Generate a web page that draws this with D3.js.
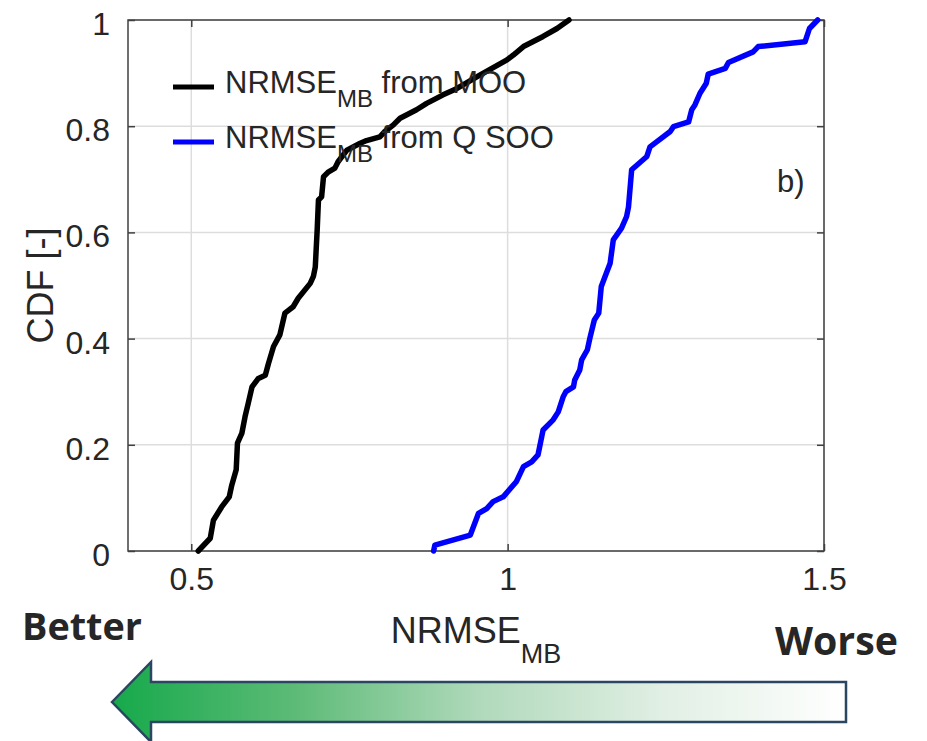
<!DOCTYPE html>
<html>
<head>
<meta charset="utf-8">
<script src="https://cdn.jsdelivr.net/npm/d3@7/dist/d3.min.js"></script>
<style>
  html, body { margin: 0; padding: 0; background: #ffffff; }
  svg { display: block; }
  text { font-family: "Liberation Sans", Arial, Helvetica, sans-serif; fill: #262626; }
</style>
</head>
<body>
<svg id="chart" width="927" height="741"></svg>
<script>
// Empirical CDF of NRMSE_MB, multi-objective optimisation (MOO)
const mooX = [0.511, 0.530, 0.535, 0.548, 0.560, 0.564, 0.571, 0.573, 0.580, 0.585, 0.590, 0.596,
  0.606, 0.617, 0.622, 0.630, 0.640, 0.648, 0.661, 0.669, 0.688, 0.693, 0.696, 0.699, 0.701, 0.706,
  0.709, 0.717, 0.727, 0.732, 0.746, 0.767, 0.777, 0.798, 0.806, 0.819, 0.830, 0.856, 0.872, 0.898,
  0.920, 0.956, 0.999, 1.009, 1.025, 1.056, 1.078, 1.097];
const mooCdf = [0.000, 0.024, 0.058, 0.083, 0.102, 0.124, 0.153, 0.203, 0.222, 0.253, 0.278, 0.309,
  0.325, 0.331, 0.353, 0.385, 0.407, 0.448, 0.460, 0.476, 0.504, 0.517, 0.535, 0.605, 0.661, 0.667,
  0.705, 0.714, 0.721, 0.733, 0.755, 0.768, 0.773, 0.780, 0.790, 0.802, 0.815, 0.831, 0.843, 0.859,
  0.871, 0.896, 0.925, 0.934, 0.950, 0.969, 0.984, 1.000];

// Empirical CDF of NRMSE_MB, single-objective optimisation on Q (Q SOO)
const sooX = [0.883, 0.885, 0.941, 0.954, 0.967, 0.977, 0.993, 1.014, 1.025, 1.038, 1.048, 1.056,
  1.072, 1.080, 1.088, 1.092, 1.104, 1.106, 1.114, 1.117, 1.126, 1.130, 1.137, 1.144, 1.148, 1.154,
  1.162, 1.167, 1.180, 1.188, 1.191, 1.196, 1.220, 1.225, 1.257, 1.262, 1.286, 1.291, 1.296, 1.304,
  1.314, 1.317, 1.344, 1.349, 1.388, 1.396, 1.470, 1.477, 1.490];
const sooCdf = [0.000, 0.011, 0.030, 0.071, 0.080, 0.093, 0.102, 0.131, 0.159, 0.168, 0.181, 0.228,
  0.247, 0.262, 0.291, 0.300, 0.309, 0.322, 0.341, 0.360, 0.379, 0.401, 0.435, 0.448, 0.498, 0.517,
  0.542, 0.586, 0.608, 0.630, 0.648, 0.718, 0.743, 0.761, 0.790, 0.799, 0.808, 0.831, 0.840, 0.862,
  0.881, 0.898, 0.909, 0.920, 0.940, 0.950, 0.959, 0.984, 1.000];

const xTicks = [0.5, 1, 1.5];
const yTicks = [0, 0.2, 0.4, 0.6, 0.8, 1];
const seriesNames = ["from MOO", "from Q SOO"];
const seriesColors = ["#000000", "#0000ff"];

const svg = d3.select("#chart");
const plot = { left: 128, right: 824, top: 20, bottom: 551 };

const x = d3.scaleLinear().domain([0.4, 1.5]).range([plot.left, plot.right]);
const y = d3.scaleLinear().domain([0, 1]).range([plot.bottom, plot.top]);
const fmt = d3.format("~g");

// grid
const grid = svg.append("g");
grid.selectAll("line.gx").data(xTicks).join("line")
  .attr("x1", d => x(d)).attr("x2", d => x(d))
  .attr("y1", plot.top).attr("y2", plot.bottom)
  .attr("stroke", "#dddddd").attr("stroke-width", 1.5);
grid.selectAll("line.gy").data(yTicks).join("line")
  .attr("x1", plot.left).attr("x2", plot.right)
  .attr("y1", d => y(d)).attr("y2", d => y(d))
  .attr("stroke", "#dddddd").attr("stroke-width", 1.5);

// axes with inward ticks on all four sides
const tickLen = 7;
const axisStyle = g => {
  g.select(".domain").remove();
  g.selectAll(".tick line").attr("stroke", "#404040").attr("stroke-width", 1.5);
  g.selectAll(".tick text").attr("fill", "#262626")
    .style("font-family", '"Liberation Sans", Arial, sans-serif').style("font-size", "32px");
};
svg.append("g").attr("transform", `translate(0,${plot.bottom})`)
  .call(d3.axisBottom(x).tickValues(xTicks).tickFormat(fmt).tickSizeInner(-tickLen).tickPadding(16))
  .call(axisStyle);
svg.append("g").attr("transform", `translate(0,${plot.top})`)
  .call(d3.axisTop(x).tickValues(xTicks).tickFormat("").tickSizeInner(-tickLen))
  .call(axisStyle);
svg.append("g").attr("transform", `translate(${plot.left},0)`)
  .call(d3.axisLeft(y).tickValues(yTicks).tickFormat(fmt).tickSizeInner(-tickLen).tickPadding(18))
  .call(axisStyle)
  .call(g => g.selectAll(".tick text").attr("dy", "0.45em"));
svg.append("g").attr("transform", `translate(${plot.right},0)`)
  .call(d3.axisRight(y).tickValues(yTicks).tickFormat("").tickSizeInner(-tickLen))
  .call(axisStyle);

// box
svg.append("rect")
  .attr("x", plot.left).attr("y", plot.top)
  .attr("width", plot.right - plot.left).attr("height", plot.bottom - plot.top)
  .attr("fill", "none").attr("stroke", "#404040").attr("stroke-width", 1.5);

// curves
const line = d3.line().x(d => x(d[0])).y(d => y(d[1]));
const series = [d3.zip(mooX, mooCdf), d3.zip(sooX, sooCdf)];
svg.append("g").selectAll("path").data(series).join("path")
  .attr("d", line)
  .attr("fill", "none")
  .attr("stroke", (d, i) => seriesColors[i])
  .attr("stroke-width", 5.5)
  .attr("stroke-linejoin", "round")
  .attr("stroke-linecap", "round");

// legend
const legend = svg.append("g");
const legendRows = [87, 142];
seriesNames.forEach((name, i) => {
  const ly = legendRows[i];
  legend.append("line")
    .attr("x1", 173).attr("x2", 214).attr("y1", ly).attr("y2", ly)
    .attr("stroke", seriesColors[i]).attr("stroke-width", 5);
  const t = legend.append("text").attr("x", 225).attr("y", ly + 6).style("font-size", "31px").attr("fill", "#000");
  t.append("tspan").text("NRMSE");
  t.append("tspan").attr("dy", 14).style("font-size", "24px").text("MB");
  t.append("tspan").attr("dy", -14).text(" " + name);
});

// panel tag
svg.append("text").attr("x", 777).attr("y", 192).style("font-size", "31px").attr("fill", "#000").text("b)");

// axis titles
const xl = svg.append("text").attr("x", (plot.left + plot.right) / 2).attr("y", 643)
  .attr("text-anchor", "middle").style("font-size", "36px");
xl.append("tspan").text("NRMSE");
xl.append("tspan").attr("dy", 20).style("font-size", "27px").text("MB");

svg.append("text")
  .attr("transform", `translate(53,${(plot.top + plot.bottom) / 2}) rotate(-90)`)
  .attr("text-anchor", "middle").style("font-size", "36px").text("CDF [-]");

// better / worse arrow
const defs = svg.append("defs");
const grad = defs.append("linearGradient").attr("id", "arrowGrad")
  .attr("gradientUnits", "userSpaceOnUse").attr("x1", 112).attr("x2", 846).attr("y1", 0).attr("y2", 0);
grad.append("stop").attr("offset", 0).attr("stop-color", "#16a94b");
grad.append("stop").attr("offset", 0.25).attr("stop-color", "#5dbb77");
grad.append("stop").attr("offset", 0.5).attr("stop-color", "#b0d9bb");
grad.append("stop").attr("offset", 0.75).attr("stop-color", "#e1efe4");
grad.append("stop").attr("offset", 1).attr("stop-color", "#ffffff");

svg.append("path")
  .attr("d", d3.line()([[112, 702], [151, 662], [151, 682], [846, 682], [846, 722], [151, 722], [151, 742]]) + "Z")
  .attr("fill", "url(#arrowGrad)")
  .attr("stroke", "#2b4660").attr("stroke-width", 2.5).attr("stroke-linejoin", "miter");

svg.append("text").attr("x", 22).attr("y", 640)
  .attr("textLength", 120).attr("lengthAdjust", "spacingAndGlyphs")
  .style("font-family", "'Open Sans', Lato, sans-serif").style("font-weight", "bold")
  .style("font-size", "38px").attr("fill", "#000").text("Better");
svg.append("text").attr("x", 775).attr("y", 655)
  .attr("textLength", 123).attr("lengthAdjust", "spacingAndGlyphs")
  .style("font-family", "'Open Sans', Lato, sans-serif").style("font-weight", "bold")
  .style("font-size", "39px").attr("fill", "#000").text("Worse");
</script>
</body>
</html>
